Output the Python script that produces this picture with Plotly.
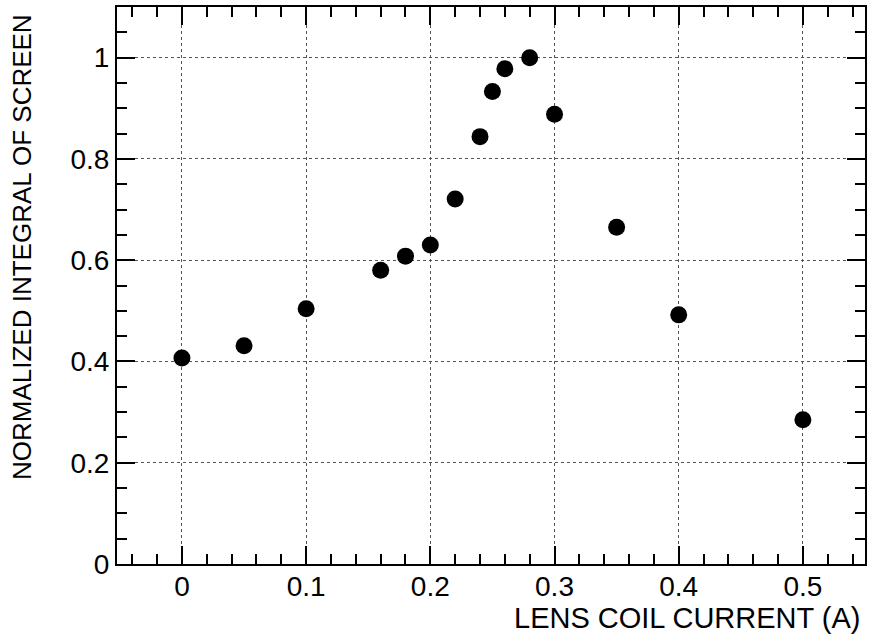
import plotly.graph_objects as go

current = [0.0, 0.05, 0.10, 0.16, 0.18, 0.20, 0.22, 0.24, 0.25, 0.26, 0.28, 0.30, 0.35, 0.40, 0.50]
integral = [0.407, 0.431, 0.504, 0.580, 0.608, 0.630, 0.721, 0.844, 0.933, 0.978, 1.000, 0.888, 0.665, 0.492, 0.285]

x_ticks = [0.0, 0.1, 0.2, 0.3, 0.4, 0.5]
x_ticklabels = ["0", "0.1", "0.2", "0.3", "0.4", "0.5"]
y_ticks = [0.0, 0.2, 0.4, 0.6, 0.8, 1.0]
y_ticklabels = ["0", "0.2", "0.4", "0.6", "0.8", "1"]

x_title = "LENS COIL CURRENT (A)"
y_title = "NORMALIZED INTEGRAL OF SCREEN"

FONT = "Liberation Sans, Arial, Helvetica, sans-serif"

fig = go.Figure()
fig.add_trace(go.Scatter(
    x=current, y=integral, mode="markers",
    marker=dict(color="black", size=17, line=dict(width=0)),
    showlegend=False,
))

axis_common = dict(
    showline=True, linecolor="black", linewidth=2, mirror="allticks",
    ticks="inside", tickcolor="black", tickwidth=2,
    showgrid=True, gridcolor="#555555", griddash="dot", gridwidth=1,
    zeroline=False,
    tickfont=dict(family=FONT, size=28, color="black"),
)

fig.update_xaxes(
    **axis_common,
    range=[-0.0523, 0.55], tickmode="array", tickvals=x_ticks, ticktext=x_ticklabels,
    ticklen=18, ticklabelstandoff=-4,
    minor=dict(ticks="inside", dtick=0.02, tick0=0, ticklen=10, tickwidth=1.5,
               tickcolor="black", showgrid=False),
)
fig.update_yaxes(
    **axis_common,
    range=[0, 1.1], tickmode="array", tickvals=y_ticks, ticktext=y_ticklabels,
    ticklen=18,
    minor=dict(ticks="inside", dtick=0.05, tick0=0, ticklen=10, tickwidth=1.5,
               tickcolor="black", showgrid=False),
)

fig.add_annotation(
    text=x_title, xref="paper", yref="paper", x=1.0, y=0, xanchor="right",
    yanchor="middle", yshift=-54, xshift=-3, showarrow=False,
    font=dict(family=FONT, size=29, color="black"),
)
fig.add_annotation(
    text=y_title, xref="paper", yref="paper", x=0, y=1.0, xanchor="center",
    yanchor="top", xshift=-95, yshift=-5, textangle=-90, showarrow=False,
    font=dict(family=FONT, size=26, color="black"),
)

fig.update_layout(
    width=869, height=636,
    margin=dict(l=117, r=2, t=7, b=72),
    paper_bgcolor="white", plot_bgcolor="white",
    font=dict(family=FONT, color="black"),
)

fig.write_html("out.html")
